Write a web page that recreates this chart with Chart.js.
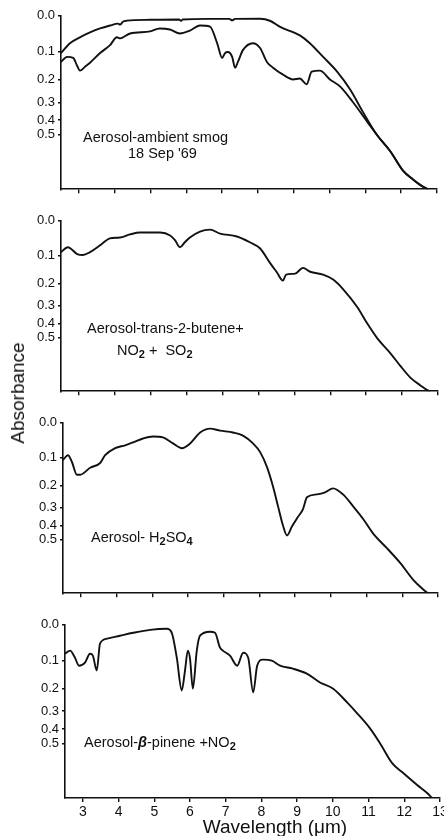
<!DOCTYPE html>
<html>
<head>
<meta charset="utf-8">
<script src="https://cdn.jsdelivr.net/npm/chart.js@4.4.0/dist/chart.umd.min.js"></script>
<style>
  html, body { margin: 0; padding: 0; background: #fff; overflow: hidden; }
  #wrap { position: relative; width: 444px; height: 836px; overflow: hidden; background: #fff; }
  canvas { position: absolute; left: 0; }
  .note { position: absolute; font: 14.5px "Liberation Sans", Arial, sans-serif; color: #111; white-space: nowrap; line-height: 16px; }
  .note sub { font-size: 11px; font-weight: bold; vertical-align: -3px; line-height: 0; }
  #ytitle { position: absolute; left: 18px; top: 393px; font: 19px "Liberation Sans", Arial, sans-serif; color: #111;
            transform: translate(-50%, -50%) rotate(-90deg); white-space: nowrap; }
  #xtitle { position: absolute; left: 275px; top: 827px; font: 19px "Liberation Sans", Arial, sans-serif; color: #111;
            transform: translate(-50%, -50%); white-space: nowrap; }
</style>
</head>
<body>
<div id="wrap">
  <canvas id="c1"></canvas>
  <canvas id="c2"></canvas>
  <canvas id="c3"></canvas>
  <canvas id="c4"></canvas>
  <div class="note" style="left:83px;top:129px">Aerosol-ambient smog</div>
  <div class="note" style="left:128px;top:145px">18 Sep '69</div>
  <div class="note" style="left:87px;top:320px">Aerosol-trans-2-butene+</div>
  <div class="note" style="left:117px;top:342px">NO<sub>2</sub> +&nbsp; SO<sub>2</sub></div>
  <div class="note" style="left:91px;top:529px">Aerosol-&nbsp;H<sub>2</sub>SO<sub>4</sub></div>
  <div class="note" style="left:84px;top:734px">Aerosol-<b><i>β</i></b>-pinene +NO<sub>2</sub></div>
  <div id="ytitle">Absorbance</div>
  <div id="xtitle">Wavelength (μm)</div>
</div>
<script>
// transmittance in % of full scale (top of panel = 0.0 absorbance)
const smogUpperWave = [2.5, 2.75, 3.03, 3.31, 3.59, 3.87, 4.09, 4.15, 4.23, 4.34, 4.99, 5.8, 5.85, 5.9, 6.6, 7.2, 7.28, 7.36, 8.06, 8.35, 8.62, 9.17, 9.45, 9.82, 10.21, 10.57, 10.93, 11.33, 11.69, 12.05, 12.33, 12.55, 12.75];
const smogUpperT = [78.5, 84.2, 87.6, 90.4, 92.7, 94.4, 95.5, 94.9, 96.6, 97.2, 97.7, 97.9, 97.0, 97.9, 98.2, 98.2, 97.4, 98.2, 98.3, 97.0, 93.6, 88.7, 84.2, 76.3, 67.8, 57.6, 44.6, 31.1, 22.0, 10.7, 5.6, 2.2, 0];

const smogLowerWave = [2.5, 2.67, 2.84, 2.95, 3.03, 3.17, 3.31, 3.59, 3.87, 4.06, 4.15, 4.43, 4.99, 5.26, 5.54, 5.82, 6.1, 6.38, 6.66, 6.86, 7.0, 7.08, 7.16, 7.28, 7.36, 7.44, 7.58, 7.86, 8.06, 8.25, 8.42, 8.7, 8.98, 9.17, 9.36, 9.5, 9.73, 10.01, 10.29, 10.65, 11.05, 11.33, 11.69, 12.05, 12.33, 12.55, 12.75];
const smogLowerT = [73.4, 76.3, 75.7, 71.2, 68.4, 70.6, 72.9, 78.5, 83.1, 87.6, 87.0, 89.8, 91.0, 92.7, 92.1, 89.8, 91.5, 94.4, 93.8, 84.2, 75.7, 78.5, 79.1, 76.3, 70.1, 73.4, 80.2, 84.2, 81.4, 73.4, 70.1, 66.1, 63.3, 63.8, 60.5, 67.8, 68.4, 63.3, 59.3, 50.3, 39.0, 31.1, 22.0, 10.7, 5.6, 2.2, 0];

const buteneWave = [2.5, 2.69, 2.95, 3.11, 3.31, 3.59, 3.86, 4.14, 4.42, 4.7, 5.26, 5.54, 5.68, 5.81, 5.95, 6.09, 6.37, 6.65, 6.93, 7.4, 7.76, 8.04, 8.32, 8.52, 8.68, 8.77, 9.02, 9.24, 9.44, 9.8, 10.08, 10.36, 10.75, 11.03, 11.31, 11.67, 11.95, 12.23, 12.51, 12.7, 12.78];
const buteneT = [81.6, 84.5, 80.5, 79.9, 81.6, 85.6, 89.7, 90.2, 92.0, 93.1, 93.1, 91.4, 88.5, 84.5, 87.4, 90.2, 93.7, 94.8, 92.5, 90.8, 87.4, 83.9, 75.3, 69.5, 64.9, 68.4, 69.0, 72.4, 70.1, 68.4, 65.5, 59.8, 49.4, 39.7, 31.0, 22.4, 14.9, 8.0, 3.4, 0.6, 0];

const sulfWave = [2.5, 2.64, 2.75, 2.89, 2.98, 3.26, 3.54, 3.68, 3.96, 4.24, 4.46, 4.74, 5.02, 5.3, 5.58, 5.83, 6.06, 6.34, 6.62, 6.9, 7.26, 7.54, 7.82, 8.02, 8.21, 8.38, 8.52, 8.66, 8.77, 8.91, 9.08, 9.22, 9.33, 9.61, 9.84, 10.06, 10.34, 10.62, 10.9, 11.18, 11.57, 11.94, 12.3, 12.58, 12.72];
const sulfT = [78.2, 81.0, 77.0, 69.5, 69.5, 73.6, 76.4, 81.0, 85.1, 86.8, 88.5, 90.8, 92.0, 91.4, 87.9, 85.1, 87.9, 94.3, 96.6, 95.4, 94.3, 92.5, 87.9, 82.8, 74.1, 62.6, 51.1, 39.7, 33.9, 39.1, 44.8, 49.4, 56.3, 58.0, 59.2, 61.5, 58.0, 51.1, 43.7, 35.1, 26.4, 17.8, 8.0, 2.3, 0];

const pineneWave = [2.5, 2.64, 2.78, 2.89, 3.06, 3.2, 3.28, 3.39, 3.48, 3.68, 4.04, 4.41, 4.88, 5.35, 5.49, 5.63, 5.77, 5.86, 5.94, 6.0, 6.08, 6.19, 6.28, 6.56, 6.7, 6.84, 6.92, 7.12, 7.32, 7.49, 7.63, 7.77, 7.88, 8.04, 8.29, 8.52, 8.88, 9.27, 9.64, 10.0, 10.4, 10.68, 11.04, 11.32, 11.66, 11.97, 12.36, 12.64, 12.78];
const pineneT = [83.3, 85.1, 81.0, 76.4, 78.2, 83.3, 82.2, 73.6, 89.1, 92.0, 93.7, 95.4, 97.1, 97.7, 95.4, 81.0, 62.1, 73.6, 85.1, 80.5, 63.2, 85.1, 93.7, 96.0, 95.4, 86.8, 85.1, 82.2, 76.4, 83.9, 81.0, 60.9, 76.4, 79.9, 79.3, 76.4, 74.7, 71.8, 66.7, 63.2, 55.2, 48.9, 40.2, 31.6, 20.1, 14.4, 7.5, 2.9, 0];

const xTicks = [3, 4, 5, 6, 7, 8, 9, 10, 11, 12, 13];
const absTicks = [0.0, 0.1, 0.2, 0.3, 0.4, 0.5];
const absLabels = ['0.0', '0.1', '0.2', '0.3', '0.4', '0.5'];

const INK = '#111';
const FONT = '"Liberation Sans", Arial, sans-serif';
const CANVAS_W = 470;

function toPoints(wave, vals) {
  return wave.map((w, i) => ({ x: w, y: vals[i] }));
}

function makePanel(id, box, series, showLabels) {
  const el = document.getElementById(id);
  const padTop = 10;
  const bottomExtra = showLabels ? 30 : 8;
  const h = box.bottom - box.top + padTop + bottomExtra;
  el.width = CANVAS_W;
  el.height = h;
  el.style.top = (box.top - padTop) + 'px';
  el.style.width = CANVAS_W + 'px';
  el.style.height = h + 'px';

  new Chart(el.getContext('2d'), {
    type: 'line',
    data: {
      datasets: series.map(s => ({
        data: toPoints(s[0], s[1]),
        borderColor: INK,
        borderWidth: 1.9,
        pointRadius: 0,
        fill: false,
        cubicInterpolationMode: 'monotone'
      }))
    },
    options: {
      responsive: false,
      animation: false,
      devicePixelRatio: 1,
      layout: { padding: { left: 0, top: padTop, right: CANVAS_W - box.right, bottom: 0 } },
      plugins: { legend: { display: false }, tooltip: { enabled: false } },
      scales: {
        x: {
          type: 'linear',
          min: 2.5,
          max: 13,
          afterBuildTicks: s => { s.ticks = xTicks.map(v => ({ value: v })); },
          afterFit: s => { s.height = bottomExtra; },
          border: { display: true, color: INK, width: 1.6 },
          grid: { drawOnChartArea: false, drawTicks: true, tickLength: 4, color: INK, lineWidth: 1.4 },
          ticks: { display: showLabels, autoSkip: false, maxRotation: 0, padding: 2, color: INK, font: { family: FONT, size: 14 } }
        },
        y: {
          type: 'linear',
          min: 0,
          max: 100,
          afterBuildTicks: s => { s.ticks = absTicks.map(a => ({ value: 100 * Math.pow(10, -a) })); },
          afterFit: s => { s.width = box.left; },
          border: { display: true, color: INK, width: 1.6 },
          grid: { drawOnChartArea: false, drawTicks: true, tickLength: 3, color: INK, lineWidth: 1.4 },
          ticks: {
            autoSkip: false,
            padding: 3,
            color: INK,
            font: { family: FONT, size: 13 },
            callback: (v, i) => absLabels[i]
          }
        }
      }
    }
  });
}

makePanel('c1', { top: 15, bottom: 192, left: 61, right: 437 },
  [[smogUpperWave, smogUpperT], [smogLowerWave, smogLowerT]], false);
makePanel('c2', { top: 220, bottom: 394, left: 61, right: 438 },
  [[buteneWave, buteneT]], false);
makePanel('c3', { top: 422, bottom: 596, left: 63, right: 438 },
  [[sulfWave, sulfT]], false);
makePanel('c4', { top: 624, bottom: 798, left: 65, right: 440 },
  [[pineneWave, pineneT]], true);
</script>
</body>
</html>
